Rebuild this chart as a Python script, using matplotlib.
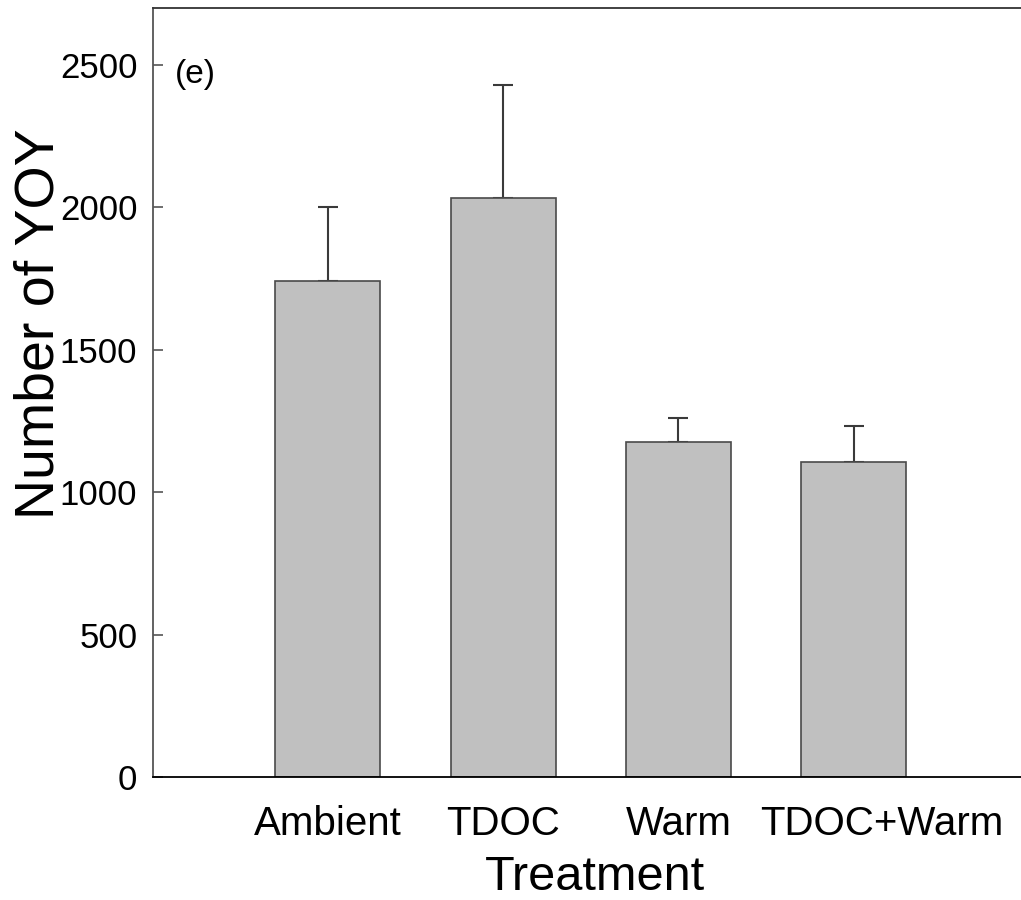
import matplotlib
matplotlib.use("Agg")
import numpy as np
import matplotlib.pyplot as plt
import matplotlib.transforms as mtransforms

plt.rcParams['font.family'] = ['Liberation Sans', 'DejaVu Sans']

# data
treatments = ['Ambient', 'TDOC', 'Warm', 'TDOC+Warm']
yoy_mean = [1742, 2032, 1175, 1105]
yoy_err = [261, 399, 84, 126]
yticks = [0, 500, 1000, 1500, 2000, 2500]

fig = plt.figure(figsize=(10.21, 9.0), dpi=100)
ax = fig.add_axes([0.1494, 0.13667, 0.8506, 0.85444])

x = np.arange(1, len(treatments) + 1)
ax.bar(x, yoy_mean, width=0.6, color='#c0c0c0', edgecolor='#4a4a4a', linewidth=1.2, zorder=2)
# only the upper half of the error bar is drawn
ax.errorbar(x, yoy_mean, yerr=[np.zeros(len(yoy_err)), yoy_err], fmt='none',
            ecolor='#3a3a3a', elinewidth=1.5, capsize=7, capthick=1.5, zorder=1)

ax.set_xlim(0, 4.954)
ax.set_ylim(0, 2700)
ax.set_yticks(yticks)
ax.set_yticklabels([str(v) for v in yticks])
ax.set_xticks(x)
ax.set_xticklabels(treatments)

ax.tick_params(axis='y', direction='in', length=7, width=1.2, color='#555555',
               labelsize=25, pad=11)
ax.tick_params(axis='x', length=0, labelsize=29, pad=20)

# last label sits a bit right of its bar in the original
lbl = ax.get_xticklabels()[-1]
lbl.set_transform(lbl.get_transform() + mtransforms.ScaledTranslation(0.28, 0, fig.dpi_scale_trans))

ax.set_xlabel('Treatment', fontsize=35, labelpad=9, x=0.509)
ax.set_ylabel('Number of YOY', fontsize=40)
ax.yaxis.set_label_coords(-0.100, 0.589)

ax.spines['right'].set_visible(False)
ax.spines['top'].set_color('#333333')
ax.spines['left'].set_color('#555555')
ax.spines['bottom'].set_color('#000000')
for s in ['top', 'left', 'bottom']:
    ax.spines[s].set_linewidth(1.3)

ax.text(0.026, 0.913, '(e)', transform=ax.transAxes, fontsize=24, va='center', ha='left')

fig.savefig('out.png', dpi=100)
